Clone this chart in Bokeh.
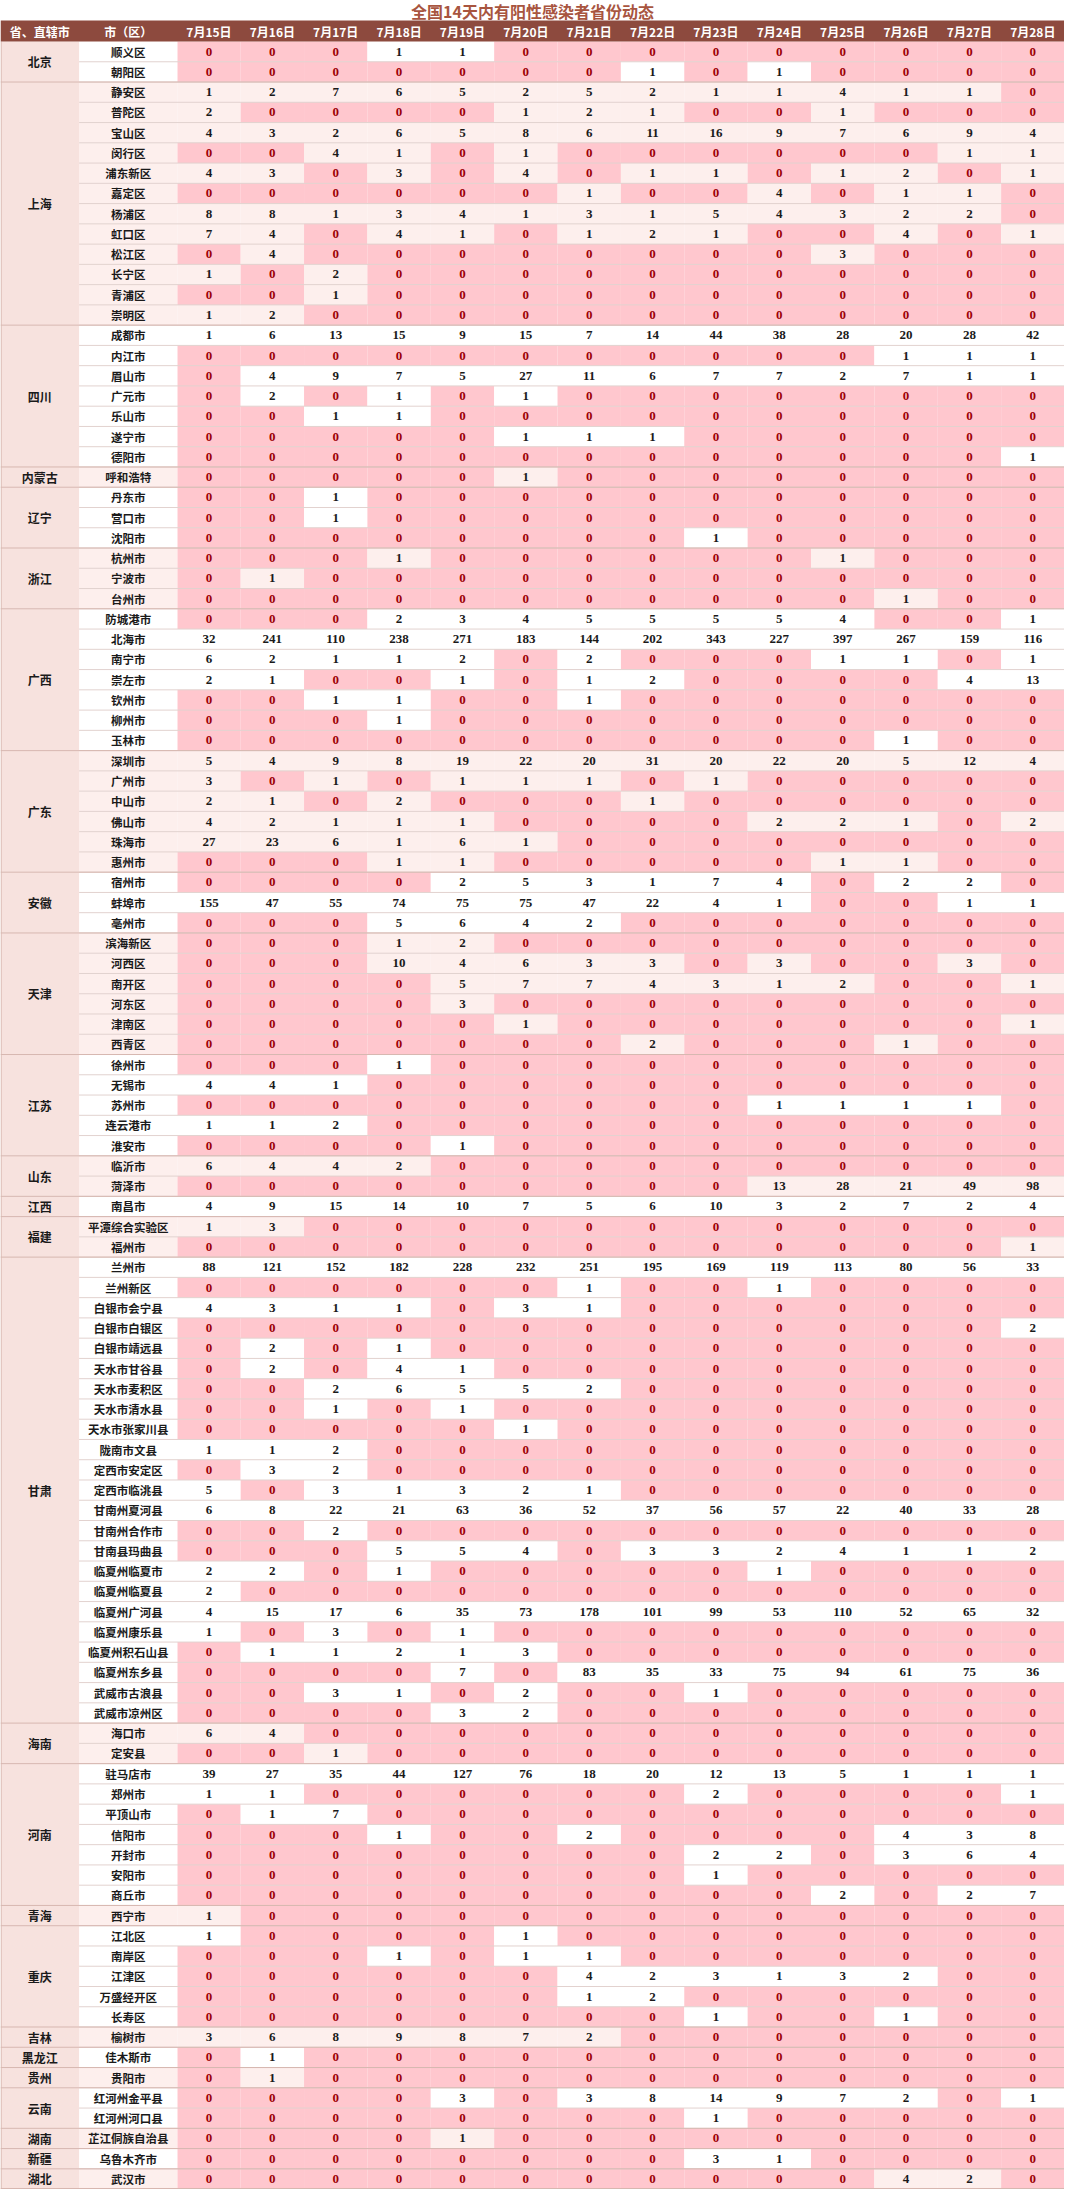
from bokeh.plotting import figure
from bokeh.models import ColumnDataSource, Range1d
from bokeh.core.properties import value
from bokeh.embed import file_html
from bokeh.resources import INLINE

title_text = "全国14天内有阳性感染者省份动态"
head_left = ["省、直辖市", "市（区）"]
dates = ["7月15日", "7月16日", "7月17日", "7月18日", "7月19日", "7月20日", "7月21日",
         "7月22日", "7月23日", "7月24日", "7月25日", "7月26日", "7月27日", "7月28日"]

prov_names = ["北京", "上海", "四川", "内蒙古", "辽宁", "浙江", "广西", "广东", "安徽", "天津",
              "江苏", "山东", "江西", "福建", "甘肃", "海南", "河南", "青海", "重庆", "吉林",
              "黑龙江", "贵州", "云南", "湖南", "新疆", "湖北"]
prov_sizes = [2, 12, 7, 1, 3, 3, 7, 6, 3, 6, 5, 2, 1, 2, 23, 2, 7, 1, 5, 1, 1, 1, 2, 1, 1, 1]

cities = [
    "顺义区", "朝阳区",
    "静安区", "普陀区", "宝山区", "闵行区", "浦东新区", "嘉定区", "杨浦区", "虹口区", "松江区", "长宁区", "青浦区", "崇明区",
    "成都市", "内江市", "眉山市", "广元市", "乐山市", "遂宁市", "德阳市",
    "呼和浩特",
    "丹东市", "营口市", "沈阳市",
    "杭州市", "宁波市", "台州市",
    "防城港市", "北海市", "南宁市", "崇左市", "钦州市", "柳州市", "玉林市",
    "深圳市", "广州市", "中山市", "佛山市", "珠海市", "惠州市",
    "宿州市", "蚌埠市", "亳州市",
    "滨海新区", "河西区", "南开区", "河东区", "津南区", "西青区",
    "徐州市", "无锡市", "苏州市", "连云港市", "淮安市",
    "临沂市", "菏泽市",
    "南昌市",
    "平潭综合实验区", "福州市",
    "兰州市", "兰州新区", "白银市会宁县", "白银市白银区", "白银市靖远县", "天水市甘谷县", "天水市麦积区",
    "天水市清水县", "天水市张家川县", "陇南市文县", "定西市安定区", "定西市临洮县", "甘南州夏河县",
    "甘南州合作市", "甘南县玛曲县", "临夏州临夏市", "临夏州临夏县", "临夏州广河县", "临夏州康乐县",
    "临夏州积石山县", "临夏州东乡县", "武威市古浪县", "武威市凉州区",
    "海口市", "定安县",
    "驻马店市", "郑州市", "平顶山市", "信阳市", "开封市", "安阳市", "商丘市",
    "西宁市",
    "江北区", "南岸区", "江津区", "万盛经开区", "长寿区",
    "榆树市", "佳木斯市", "贵阳市",
    "红河州金平县", "红河州河口县",
    "芷江侗族自治县", "乌鲁木齐市", "武汉市",
]

counts = [
    [0, 0, 0, 1, 1, 0, 0, 0, 0, 0, 0, 0, 0, 0],
    [0, 0, 0, 0, 0, 0, 0, 1, 0, 1, 0, 0, 0, 0],
    [1, 2, 7, 6, 5, 2, 5, 2, 1, 1, 4, 1, 1, 0],
    [2, 0, 0, 0, 0, 1, 2, 1, 0, 0, 1, 0, 0, 0],
    [4, 3, 2, 6, 5, 8, 6, 11, 16, 9, 7, 6, 9, 4],
    [0, 0, 4, 1, 0, 1, 0, 0, 0, 0, 0, 0, 1, 1],
    [4, 3, 0, 3, 0, 4, 0, 1, 1, 0, 1, 2, 0, 1],
    [0, 0, 0, 0, 0, 0, 1, 0, 0, 4, 0, 1, 1, 0],
    [8, 8, 1, 3, 4, 1, 3, 1, 5, 4, 3, 2, 2, 0],
    [7, 4, 0, 4, 1, 0, 1, 2, 1, 0, 0, 4, 0, 1],
    [0, 4, 0, 0, 0, 0, 0, 0, 0, 0, 3, 0, 0, 0],
    [1, 0, 2, 0, 0, 0, 0, 0, 0, 0, 0, 0, 0, 0],
    [0, 0, 1, 0, 0, 0, 0, 0, 0, 0, 0, 0, 0, 0],
    [1, 2, 0, 0, 0, 0, 0, 0, 0, 0, 0, 0, 0, 0],
    [1, 6, 13, 15, 9, 15, 7, 14, 44, 38, 28, 20, 28, 42],
    [0, 0, 0, 0, 0, 0, 0, 0, 0, 0, 0, 1, 1, 1],
    [0, 4, 9, 7, 5, 27, 11, 6, 7, 7, 2, 7, 1, 1],
    [0, 2, 0, 1, 0, 1, 0, 0, 0, 0, 0, 0, 0, 0],
    [0, 0, 1, 1, 0, 0, 0, 0, 0, 0, 0, 0, 0, 0],
    [0, 0, 0, 0, 0, 1, 1, 1, 0, 0, 0, 0, 0, 0],
    [0, 0, 0, 0, 0, 0, 0, 0, 0, 0, 0, 0, 0, 1],
    [0, 0, 0, 0, 0, 1, 0, 0, 0, 0, 0, 0, 0, 0],
    [0, 0, 1, 0, 0, 0, 0, 0, 0, 0, 0, 0, 0, 0],
    [0, 0, 1, 0, 0, 0, 0, 0, 0, 0, 0, 0, 0, 0],
    [0, 0, 0, 0, 0, 0, 0, 0, 1, 0, 0, 0, 0, 0],
    [0, 0, 0, 1, 0, 0, 0, 0, 0, 0, 1, 0, 0, 0],
    [0, 1, 0, 0, 0, 0, 0, 0, 0, 0, 0, 0, 0, 0],
    [0, 0, 0, 0, 0, 0, 0, 0, 0, 0, 0, 1, 0, 0],
    [0, 0, 0, 2, 3, 4, 5, 5, 5, 5, 4, 0, 0, 1],
    [32, 241, 110, 238, 271, 183, 144, 202, 343, 227, 397, 267, 159, 116],
    [6, 2, 1, 1, 2, 0, 2, 0, 0, 0, 1, 1, 0, 1],
    [2, 1, 0, 0, 1, 0, 1, 2, 0, 0, 0, 0, 4, 13],
    [0, 0, 1, 1, 0, 0, 1, 0, 0, 0, 0, 0, 0, 0],
    [0, 0, 0, 1, 0, 0, 0, 0, 0, 0, 0, 0, 0, 0],
    [0, 0, 0, 0, 0, 0, 0, 0, 0, 0, 0, 1, 0, 0],
    [5, 4, 9, 8, 19, 22, 20, 31, 20, 22, 20, 5, 12, 4],
    [3, 0, 1, 0, 1, 1, 1, 0, 1, 0, 0, 0, 0, 0],
    [2, 1, 0, 2, 0, 0, 0, 1, 0, 0, 0, 0, 0, 0],
    [4, 2, 1, 1, 1, 0, 0, 0, 0, 2, 2, 1, 0, 2],
    [27, 23, 6, 1, 6, 1, 0, 0, 0, 0, 0, 0, 0, 0],
    [0, 0, 0, 1, 1, 0, 0, 0, 0, 0, 1, 1, 0, 0],
    [0, 0, 0, 0, 2, 5, 3, 1, 7, 4, 0, 2, 2, 0],
    [155, 47, 55, 74, 75, 75, 47, 22, 4, 1, 0, 0, 1, 1],
    [0, 0, 0, 5, 6, 4, 2, 0, 0, 0, 0, 0, 0, 0],
    [0, 0, 0, 1, 2, 0, 0, 0, 0, 0, 0, 0, 0, 0],
    [0, 0, 0, 10, 4, 6, 3, 3, 0, 3, 0, 0, 3, 0],
    [0, 0, 0, 0, 5, 7, 7, 4, 3, 1, 2, 0, 0, 1],
    [0, 0, 0, 0, 3, 0, 0, 0, 0, 0, 0, 0, 0, 0],
    [0, 0, 0, 0, 0, 1, 0, 0, 0, 0, 0, 0, 0, 1],
    [0, 0, 0, 0, 0, 0, 0, 2, 0, 0, 0, 1, 0, 0],
    [0, 0, 0, 1, 0, 0, 0, 0, 0, 0, 0, 0, 0, 0],
    [4, 4, 1, 0, 0, 0, 0, 0, 0, 0, 0, 0, 0, 0],
    [0, 0, 0, 0, 0, 0, 0, 0, 0, 1, 1, 1, 1, 0],
    [1, 1, 2, 0, 0, 0, 0, 0, 0, 0, 0, 0, 0, 0],
    [0, 0, 0, 0, 1, 0, 0, 0, 0, 0, 0, 0, 0, 0],
    [6, 4, 4, 2, 0, 0, 0, 0, 0, 0, 0, 0, 0, 0],
    [0, 0, 0, 0, 0, 0, 0, 0, 0, 13, 28, 21, 49, 98],
    [4, 9, 15, 14, 10, 7, 5, 6, 10, 3, 2, 7, 2, 4],
    [1, 3, 0, 0, 0, 0, 0, 0, 0, 0, 0, 0, 0, 0],
    [0, 0, 0, 0, 0, 0, 0, 0, 0, 0, 0, 0, 0, 1],
    [88, 121, 152, 182, 228, 232, 251, 195, 169, 119, 113, 80, 56, 33],
    [0, 0, 0, 0, 0, 0, 1, 0, 0, 1, 0, 0, 0, 0],
    [4, 3, 1, 1, 0, 3, 1, 0, 0, 0, 0, 0, 0, 0],
    [0, 0, 0, 0, 0, 0, 0, 0, 0, 0, 0, 0, 0, 2],
    [0, 2, 0, 1, 0, 0, 0, 0, 0, 0, 0, 0, 0, 0],
    [0, 2, 0, 4, 1, 0, 0, 0, 0, 0, 0, 0, 0, 0],
    [0, 0, 2, 6, 5, 5, 2, 0, 0, 0, 0, 0, 0, 0],
    [0, 0, 1, 0, 1, 0, 0, 0, 0, 0, 0, 0, 0, 0],
    [0, 0, 0, 0, 0, 1, 0, 0, 0, 0, 0, 0, 0, 0],
    [1, 1, 2, 0, 0, 0, 0, 0, 0, 0, 0, 0, 0, 0],
    [0, 3, 2, 0, 0, 0, 0, 0, 0, 0, 0, 0, 0, 0],
    [5, 0, 3, 1, 3, 2, 1, 0, 0, 0, 0, 0, 0, 0],
    [6, 8, 22, 21, 63, 36, 52, 37, 56, 57, 22, 40, 33, 28],
    [0, 0, 2, 0, 0, 0, 0, 0, 0, 0, 0, 0, 0, 0],
    [0, 0, 0, 5, 5, 4, 0, 3, 3, 2, 4, 1, 1, 2],
    [2, 2, 0, 1, 0, 0, 0, 0, 0, 1, 0, 0, 0, 0],
    [2, 0, 0, 0, 0, 0, 0, 0, 0, 0, 0, 0, 0, 0],
    [4, 15, 17, 6, 35, 73, 178, 101, 99, 53, 110, 52, 65, 32],
    [1, 0, 3, 0, 1, 0, 0, 0, 0, 0, 0, 0, 0, 0],
    [0, 1, 1, 2, 1, 3, 0, 0, 0, 0, 0, 0, 0, 0],
    [0, 0, 0, 0, 7, 0, 83, 35, 33, 75, 94, 61, 75, 36],
    [0, 0, 3, 1, 0, 2, 0, 0, 1, 0, 0, 0, 0, 0],
    [0, 0, 0, 0, 3, 2, 0, 0, 0, 0, 0, 0, 0, 0],
    [6, 4, 0, 0, 0, 0, 0, 0, 0, 0, 0, 0, 0, 0],
    [0, 0, 1, 0, 0, 0, 0, 0, 0, 0, 0, 0, 0, 0],
    [39, 27, 35, 44, 127, 76, 18, 20, 12, 13, 5, 1, 1, 1],
    [1, 1, 0, 0, 0, 0, 0, 0, 2, 0, 0, 0, 0, 1],
    [0, 1, 7, 0, 0, 0, 0, 0, 0, 0, 0, 0, 0, 0],
    [0, 0, 0, 1, 0, 0, 2, 0, 0, 0, 0, 4, 3, 8],
    [0, 0, 0, 0, 0, 0, 0, 0, 2, 2, 0, 3, 6, 4],
    [0, 0, 0, 0, 0, 0, 0, 0, 1, 0, 0, 0, 0, 0],
    [0, 0, 0, 0, 0, 0, 0, 0, 0, 0, 2, 0, 2, 7],
    [1, 0, 0, 0, 0, 0, 0, 0, 0, 0, 0, 0, 0, 0],
    [1, 0, 0, 0, 0, 1, 0, 0, 0, 0, 0, 0, 0, 0],
    [0, 0, 0, 1, 0, 1, 1, 0, 0, 0, 0, 0, 0, 0],
    [0, 0, 0, 0, 0, 0, 4, 2, 3, 1, 3, 2, 0, 0],
    [0, 0, 0, 0, 0, 0, 1, 2, 0, 0, 0, 0, 0, 0],
    [0, 0, 0, 0, 0, 0, 0, 0, 1, 0, 0, 1, 0, 0],
    [3, 6, 8, 9, 8, 7, 2, 0, 0, 0, 0, 0, 0, 0],
    [0, 1, 0, 0, 0, 0, 0, 0, 0, 0, 0, 0, 0, 0],
    [0, 1, 0, 0, 0, 0, 0, 0, 0, 0, 0, 0, 0, 0],
    [0, 0, 0, 0, 3, 0, 3, 8, 14, 9, 7, 2, 0, 1],
    [0, 0, 0, 0, 0, 0, 0, 0, 1, 0, 0, 0, 0, 0],
    [0, 0, 0, 0, 1, 0, 0, 0, 0, 0, 0, 0, 0, 0],
    [0, 0, 0, 0, 0, 0, 0, 0, 3, 1, 0, 0, 0, 0],
    [0, 0, 0, 0, 0, 0, 0, 0, 0, 0, 0, 4, 2, 0],
]

# ---------------- style ----------------
ZERO_FILL = "#ffc7ce"
ZERO_TEXT = "#9c0006"
BAND = ["#ffffff", "#fdefed"]
PROV_FILL = "#f7e2de"
HEAD_FILL = "#8d4a3e"
TITLE_COLOR = "#a8553f"
ROW_LINE = "#e2d2cf"
PROV_LINE = "#d7b7b0"
CJK = value("Noto Sans CJK SC")
NUM = value("Liberation Sans Narrow")

PW, CW = 1.24, 1.55          # widths of province / city columns (in date-column units)
X0 = -(PW + CW)
ND = len(dates)
NR = len(cities)
HEAD_H = 1.037
TOP = -2.024
BOT = NR + 0.02

p = figure(width=1064, height=2189, output_backend="svg", toolbar_location=None,
           x_range=Range1d(X0, ND), y_range=Range1d(BOT, TOP),
           x_axis_location=None, y_axis_location=None, min_border=0,
           outline_line_color=None, background_fill_color="white", border_fill_color="white")
p.xgrid.visible = False
p.ygrid.visible = False

# province index per row
row_prov = []
for k, n in enumerate(prov_sizes):
    row_prov += [k] * n

# value cells
cl, cr, ct, cb, cf, tx, ty, tt, tc = [], [], [], [], [], [], [], [], []
for i, row in enumerate(counts):
    for j, v in enumerate(row):
        cl.append(j); cr.append(j + 1); ct.append(i); cb.append(i + 1)
        cf.append(ZERO_FILL if v == 0 else BAND[row_prov[i] % 2])
        tx.append(j + 0.5); ty.append(i + 0.5); tt.append(str(v))
        tc.append(ZERO_TEXT if v == 0 else "#1a1a1a")
p.quad(left=cl, right=cr, top=ct, bottom=cb, fill_color=cf, line_color=None)

# city cells
p.quad(left=[-CW] * NR, right=[0] * NR, top=list(range(NR)), bottom=[i + 1 for i in range(NR)],
       fill_color=[BAND[row_prov[i] % 2] for i in range(NR)], line_color=None)

# province cells
starts = []
s = 0
for n in prov_sizes:
    starts.append(s)
    s += n
p.quad(left=[X0] * len(prov_sizes), right=[-CW] * len(prov_sizes), top=starts,
       bottom=[a + n for a, n in zip(starts, prov_sizes)], fill_color=PROV_FILL, line_color=None)

# row separators
p.segment(x0=[-CW] * (NR - 1), x1=[ND] * (NR - 1), y0=list(range(1, NR)), y1=list(range(1, NR)),
          line_color=ROW_LINE, line_width=1)
# province separators
p.segment(x0=[X0] * len(starts), x1=[ND] * len(starts), y0=starts[1:] + [NR - 0.03], y1=starts[1:] + [NR - 0.03],
          line_color=PROV_LINE, line_width=1)
p.segment(x0=[X0 + 0.01], x1=[X0 + 0.01], y0=[0], y1=[NR], line_color=PROV_LINE, line_width=1)

# header
p.quad(left=[X0], right=[ND], top=[-HEAD_H], bottom=[0], fill_color=HEAD_FILL, line_color=None)
hx = [X0 + PW / 2, -CW / 2] + [j + 0.5 for j in range(ND)]
p.text(x=hx, y=[-HEAD_H / 2] * len(hx), text=head_left + dates, text_color="white",
       text_font=CJK, text_font_style="bold", text_font_size="12px",
       text_align="center", text_baseline="middle")

# title
p.text(x=[(X0 + ND) / 2], y=[-1.505], text=[title_text], text_color=TITLE_COLOR,
       text_font=CJK, text_font_style="bold", text_font_size="16px",
       text_align="center", text_baseline="middle")

# province labels
p.text(x=[X0 + PW / 2] * len(prov_names), y=[a + n / 2 for a, n in zip(starts, prov_sizes)],
       text=prov_names, text_color="#1a1a1a", text_font=CJK, text_font_style="bold",
       text_font_size="12px", text_align="center", text_baseline="middle")

# city labels
p.text(x=[-CW / 2] * NR, y=[i + 0.5 for i in range(NR)], text=cities, text_color="#1a1a1a",
       text_font=CJK, text_font_style="bold", text_font_size="11.5px",
       text_align="center", text_baseline="middle")

# values
src = ColumnDataSource(dict(x=tx, y=ty, t=tt, c=tc))
p.text(x="x", y="y", text="t", text_color="c", source=src, text_font=NUM,
       text_font_style="bold", text_font_size="13px", text_align="center", text_baseline="middle")

open("out.html", "w").write(file_html(p, INLINE))
